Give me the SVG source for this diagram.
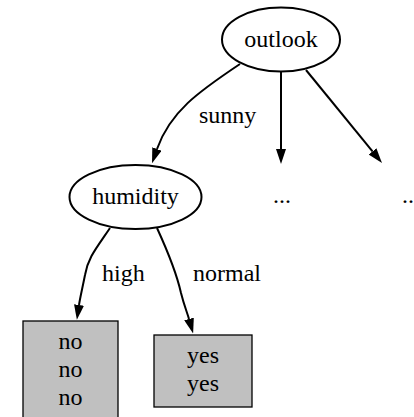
<svg xmlns="http://www.w3.org/2000/svg" width="414" height="417" viewBox="0 0 414 417">
<style>
text{font-family:"Liberation Serif","Times New Roman",serif;font-size:24px;fill:#000}
.n ellipse{fill:#fff;stroke:#000;stroke-width:2}
.n rect{fill:#c0c0c0;stroke:#000;stroke-width:1.3}
.c{text-anchor:middle}
#edges path{fill:none;stroke:#000;stroke-width:2;marker-end:url(#ah)}
</style>
<defs>
<marker id="ah" viewBox="0 0 15 10" markerWidth="15" markerHeight="10" markerUnits="userSpaceOnUse" refX="0" refY="5" orient="auto">
<path d="M0,0 L15,5 L0,10 z" fill="#000"/>
</marker>
</defs>
<rect width="414" height="417" fill="#fff"/>
<g id="edges">
<path d="M240,64 C198,92 170,112 157,149"/>
<path d="M281,72 L281,149"/>
<path d="M306,70 L372.5,151.4"/>
<path d="M110,228 C95,250 88,258 85,275 C82,290 80,298 79,305"/>
<path d="M157,228 C168,252 177,275 181,293 C184,305 187,312 189,319"/>
<text x="199" y="123">sunny</text>
<text x="102" y="281">high</text>
<text x="193" y="281">normal</text>
</g>
<g id="outlook" class="n">
<ellipse cx="281" cy="39.5" rx="59" ry="32"/>
<text class="c" x="281" y="47">outlook</text>
</g>
<g id="humidity" class="n">
<ellipse cx="135.5" cy="197" rx="66" ry="32"/>
<text class="c" x="135.5" y="204">humidity</text>
</g>
<g id="dots1" class="n">
<text x="273" y="203">...</text>
</g>
<g id="dots2" class="n">
<text x="402" y="203">...</text>
</g>
<g id="no" class="n">
<rect x="23" y="321" width="95" height="110"/>
<text class="c" x="70.5" y="349">no</text>
<text class="c" x="70.5" y="377">no</text>
<text class="c" x="70.5" y="405">no</text>
</g>
<g id="yes" class="n">
<rect x="154" y="335" width="98" height="72"/>
<text class="c" x="203" y="363">yes</text>
<text class="c" x="203" y="391">yes</text>
</g>
</svg>
